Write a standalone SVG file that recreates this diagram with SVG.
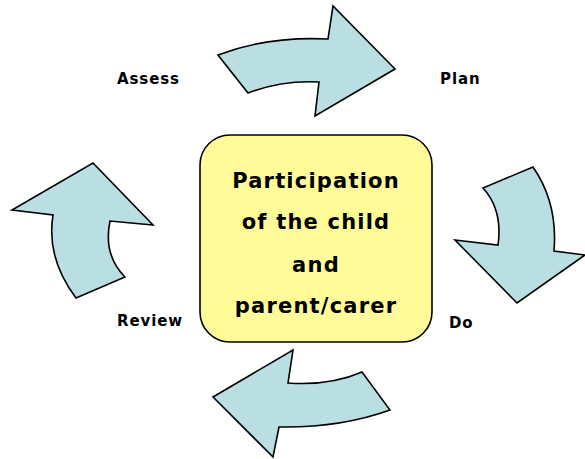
<svg xmlns="http://www.w3.org/2000/svg" width="585" height="459" viewBox="0 0 585 459">
<style>
.arr{fill:#B9DFE3;stroke:#000;stroke-width:1.6;stroke-linejoin:miter}
.lbl{font-family:"DejaVu Sans","Liberation Sans",sans-serif;font-weight:bold;font-size:15px;letter-spacing:0.9px;fill:#000}
.ctr{font-family:"DejaVu Sans","Liberation Sans",sans-serif;font-weight:bold;font-size:21px;letter-spacing:1.2px;fill:#000;text-anchor:middle}
</style>
<rect width="585" height="459" fill="#fff"/>
<g id="connectors">
<path class="arr" d="M218,55 Q268,36 328,39 L333,6 L395,69 L315,116 L319,82 Q282,80 248,93 Z"/>
<path class="arr" d="M533,167 Q558,203 554,251 L585,255 L517,303 L455,240 L498,245 Q503,210 483,188 Z"/>
<path class="arr" d="M390,410 Q340,428 279,427 L273,457 L213,397 L293,350 L288,383 Q330,386 362,372 Z"/>
<path class="arr" d="M76,298 Q46,258 53,215 L12,210 L93,163 L153,225 L110,221 Q103,255 125,277 Z"/>
</g>
<g id="center">
<rect x="200" y="135" width="232" height="207" rx="30" ry="30" fill="#FFFB99" stroke="#000" stroke-width="1.6"/>
<text class="ctr" x="316" y="188">Participation</text>
<text class="ctr" x="316" y="229">of the child</text>
<text class="ctr" x="316" y="272">and</text>
<text class="ctr" x="316" y="313">parent/carer</text>
</g>
<g id="assess"><text class="lbl" x="117" y="84">Assess</text></g>
<g id="plan"><text class="lbl" x="440" y="84">Plan</text></g>
<g id="do"><text class="lbl" x="449" y="328">Do</text></g>
<g id="review"><text class="lbl" x="117" y="326">Review</text></g>
</svg>
